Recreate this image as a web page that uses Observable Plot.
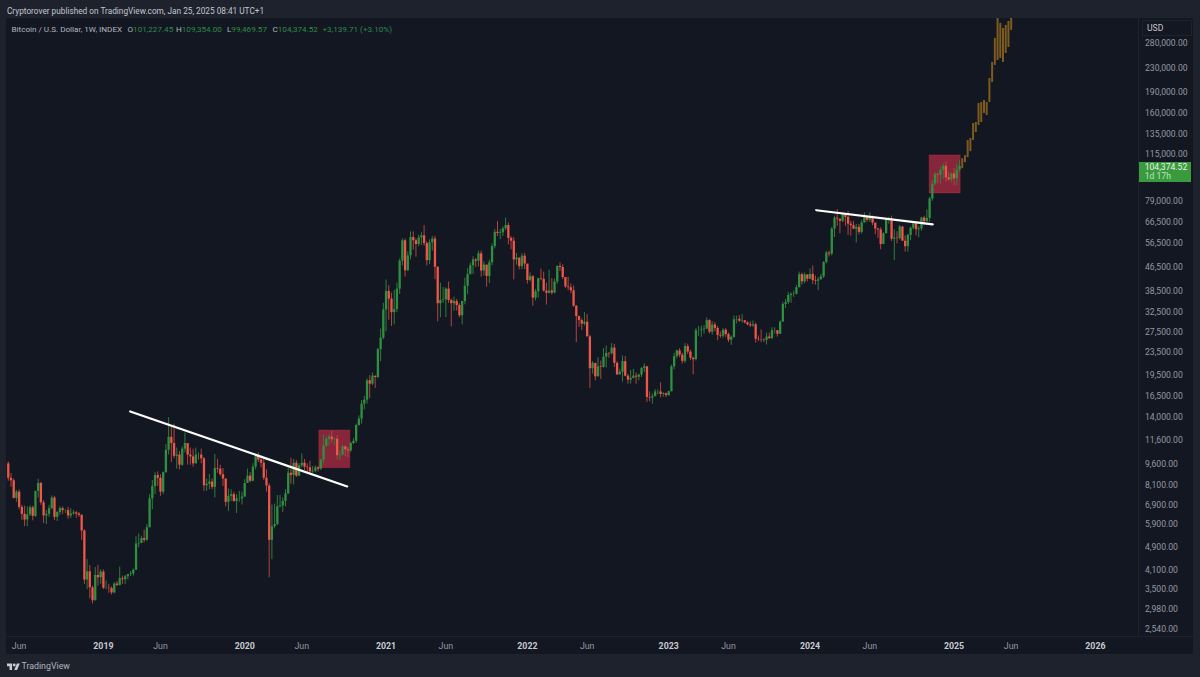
<!DOCTYPE html>
<html>
<head>
<meta charset="utf-8">
<script src="https://cdn.jsdelivr.net/npm/d3@7"></script>
<script src="https://cdn.jsdelivr.net/npm/@observablehq/plot@0.6"></script>
<style>
  html,body{margin:0;padding:0;background:#1e222d;width:1200px;height:677px;overflow:hidden;font-family:Roboto,"Liberation Sans",sans-serif;}
  #top{position:absolute;left:7px;top:6px;font-size:8.25px;line-height:10px;color:#c3c6cf;white-space:nowrap;}
  #chart{position:absolute;left:6px;top:18px;width:1187px;height:636px;background:#131722;}
  #chart svg{display:block;background:transparent;}
  #legend{position:absolute;left:11.5px;top:24px;font-size:8.1px;line-height:10px;color:#b2b5be;white-space:nowrap;}
  #legend b{font-weight:400;color:#2f8a49;}
  #legend i{font-style:normal;position:absolute;top:0;}
  #usd{position:absolute;left:1142px;top:20px;width:50px;height:16px;box-sizing:border-box;border:1px solid #1e222d;background:#131722;color:#c3c6cf;font-size:8.6px;line-height:14px;padding-left:4px;}
  #tag{position:absolute;left:1139px;top:161.5px;width:52px;height:20px;background:#3a9a3e;color:#e8f3e8;font-size:8.6px;line-height:9.5px;padding-left:5.7px;box-sizing:border-box;padding-top:1px;}
  #tag span{display:block;color:#bfe3c0;}
  #hline{position:absolute;left:7px;top:636px;width:1186px;height:1px;background:#1e222d;}
  #foot{position:absolute;left:6.5px;top:660px;height:12px;display:flex;align-items:center;color:#b2b5be;font-size:8.8px;}
  #foot svg{margin-right:2px;}
</style>
</head>
<body>
<script>
// Weekly candles from the week of 2018-05-07 to the week of 2025-01-20
const firstWeek = "2018-05-07";
const opens = [
  9600,8550,8380,7280, 7650,6770,6400,6120, 6380,6750,6300,7700,8200, 7020,6320,6400,6700, 7300,6250,6500,6700, 6600,6600,6320,6420,6480, 6420,6350,5600,3780, 4040,3550,3200,3920,3850,
  4030,3540,3540,3530, 3410,3660,3620,3820, 3790,3880,3950,3970, 4090,5050,5070,5270,5200, 5750,7250,8000,8740, 8550,7650,8950,10700, 11880,11300,10200,10300,9500, 10800,11300,10300,10150, 9600,10300,10300,10000,8050, 8150,8300,7950,9250, 9200,8800,8500,7050, 7400,7500,7100,7250,7250,
  7350,8200,8700,8350, 9350,10150,9900,9650, 8550,8040,5200,5800,5900, 6800,6850,7100,7550, 8900,8750,9650,8700, 9450,9650,9350,9300,9000, 9050,9300,9200,9900, 11050,11700,11900,11650,11700, 10250,10300,11000,10750, 10650,11300,11500,13050, 13750,15500,16000,18700,18200, 19400,19200,24000,26300,
  33000,38300,36000,32300, 33100,39000,48800,57500, 45200,50900,59000,57500,55800, 58800,59800,56200,49000, 56600,58300,46500,34700,35600, 35800,39000,35600,34700, 35300,34200,31500,35300, 39900,43800,47000,49300,48800, 51800,45100,47300,43200, 48200,54900,61500,61000, 61300,63300,65000,58600,57300, 49300,50000,46700,50800,
  47700,41800,43100,36300,38200, 42400,42200,38400,37700, 38400,37800,41300,46800, 46400,42800,39700,39450, 38500,34000,31300,30300,29450, 29900,26600,20600,21500, 19300,20900,20800,22600, 23300,23200,24300,21500,19600, 20000,21800,19400,18800, 19050,19400,19250,19570,20630, 20900,16350,16280,16450, 17100,17100,16750,16840,
  16600,17130,20900,22700,23750, 22950,21850,24600,23550, 22400,22150,27950,27950, 28150,28300,30300,27600, 29250,28450,26900,26750,28050, 27100,25900,26500,30500, 30600,30150,30250,29750,29300, 29050,29300,26100,26000, 25950,25850,26550,26250, 27950,27950,27150,29950,34500, 35000,37050,37350,37450, 39450,43800,41350,43700,
  42250,43900,41750,41550,42050, 43000,48300,52100,51700, 63100,68900,68400,67200, 71300,69400,65700,64900,63100, 64000,61500,66300,69300, 67800,69600,66200,63200, 62700,55800,60800,68200,68200, 58200,58700,58500,64200, 57300,54800,60000,63600,65900, 62800,63200,69000,67000, 68800,80400,90600,97900, 97400,101200,104500,95200,93700,
  98300,94500,101227.45
];
const highs = [
  9750,8880,8500,7750, 7780,6880,6830,6800, 6850,6830,7700,8480,8280, 7150,6600,6880,7420, 7400,6550,6800,6800, 6650,6780,6700,6600,6550, 6500,6380,5660,4450, 4250,3600,4180,4250,4100,
  4100,3750,3650,3580, 3700,3730,4190,3900, 3920,3950,4050,4130, 5350,5470,5370,5640,5900, 7500,8400,8950,9000, 8800,9000,11200,13900, 12900,13200,10900,10600,11000, 12300,11000,10900,10800, 10900,10480,10800,10100,8500, 8800,8500,10350,9950, 9500,9250,8500,7850, 7800,7650,7500,7700,7650,
  8450,9200,8950,9600, 10200,10500,10200,9950, 9150,8180,6900,6950,7450, 7450,7300,7800,9450, 10050,9950,9850,9600, 10400,9950,9600,9800,9400, 9450,9400,9950,12100, 11900,12100,12480,11800,12050, 10650,11150,11100,10950, 11450,11750,13200,14100, 15950,16500,18950,19500,19900, 19400,24200,28300,34800,
  41950,40100,37800,38600, 40950,49700,58300,58300, 52600,61700,61800,58400,60100, 61300,64900,57000,57900, 59500,59600,46600,40900,39500, 39400,41300,36000,36600, 35900,34700,35400,42600, 46000,48100,50500,49900,52900, 52900,48500,45100,49200, 56000,62900,67000,63000, 64300,69000,66300,59400,59000, 51900,50200,51800,52000,
  47500,44400,43500,38900,42600, 45800,44700,40900,45400, 42500,42300,47000,48200, 47400,42400,42900,40700, 40000,34200,31400,30700,32300, 31800,26900,21800,21500, 22500,21900,24200,24700, 23400,25200,25000,21800,20500, 22800,22700,19700,20300, 20500,19900,19700,20800,21400, 21000,17100,16800,17400, 17400,18400,17000,16950,
  17200,21200,23300,23900,24200, 23300,25200,25100,23900, 22600,28400,28900,29000, 29100,30950,30500,30000, 29800,28900,27650,28400,28400, 27400,26800,31400,31400, 31500,31800,30300,30000,30000, 30200,29700,26800,28100, 26100,27400,27400,28600, 28600,27900,30200,35100,35900, 37900,37900,38400,40200, 44700,44300,44400,43700,
  45900,47000,43300,42800,43900, 48600,52800,52900,64000, 70000,73800,68100,71500, 71300,72800,67200,67200,65500, 65500,67500,71900,70000, 71900,70100,66400,63400, 63800,61300,68300,69400,70000, 62700,61800,65000,64500, 59800,60600,64100,66500,66000, 64500,69400,70000,73600, 81500,93400,99600,98800, 104000,106500,108300,99800,99000,
  102700,106400,109354
];
const lows = [
  8350,7960,7250,7050, 6640,6100,5800,5800, 6300,6080,6250,7300,6880, 5950,5900,6250,6650, 6100,6050,6350,6400, 6450,6150,6200,6360,6200, 6250,5200,3650,3500, 3250,3120,3200,3600,3650,
  3500,3500,3400,3350, 3380,3590,3600,3650, 3650,3780,3890,3900, 4080,4900,5060,5100,5160, 5750,6650,7500,8000, 7400,7500,8900,10300, 9700,10000,9200,9150,9400, 10500,9500,9500,9350, 9600,9900,9600,7700,7700, 7800,7800,7300,8900, 8700,8000,6800,6550, 7100,7050,6450,7050,6900,
  7700,8250,8250,8300, 9150,9700,9300,8400, 7650,3850,4450,5700,5850, 6750,6500,6800,7500, 8150,8100,8600,8650, 9300,9100,8900,8800,8900, 8950,9000,9100,9600, 10950,11100,11300,11100,9900, 9850,10200,10150,10100, 10500,11200,11300,13000, 13200,14800,15500,16200,18000, 17600,19000,21800,26000,
  27700,30400,28900,29300, 32300,37400,47000,43000, 44900,49300,53300,50400,54800, 55400,55000,47000,47500, 52900,42100,30000,31000,34800, 31000,34800,28800,32700, 32700,31000,29300,34400, 37300,43800,43800,46400,46600, 42900,43300,39600,40800, 47100,53900,59500,58000, 59500,62300,55600,53500,42000, 47300,45500,45600,45700,
  40600,41300,34000,35500,36300, 41700,38100,34300,37500, 37200,37500,40500,45000, 42100,39200,38500,37600, 33700,25400,28700,28000,29000, 26600,17600,19700,18700, 19300,18900,20700,20700, 22400,23000,20800,19500,19600, 18500,19300,18200,18200, 19000,18200,18700,19200,20000, 15700,15800,15500,16700, 16700,16300,16400,16350,
  16500,17100,20400,22300,22500, 21400,21500,23100,22000, 19600,21900,26700,26500, 27200,28200,27200,26950, 27700,25800,26300,26300,26500, 25400,24800,26300,29500, 29900,29700,29500,29050,28650, 28700,25300,25600,25400, 25400,24900,26000,26000, 27200,26550,27100,29900,33400, 34500,34800,36500,37200, 39400,40300,40700,41300,
  42200,40500,40300,38500,41900, 42500,47700,50500,50900, 59000,64500,60800,66500, 64500,60000,59600,62800,56500, 60200,60700,66300,66700, 66600,64900,60300,58500, 53500,55700,63400,65700,57200, 49000,56100,57800,57200, 52500,52500,57500,62700,59800, 58900,62100,65200,66800, 66800,78900,89500,90700, 90500,94200,92100,92600,91500,
  89300,89250,99469.57
];
const closes = [
  8550,8380,7280,7650, 6770,6400,6120,6380, 6750,6300,7700,8200,7020, 6320,6400,6700,7300, 6250,6500,6700,6600, 6600,6320,6420,6480,6420, 6350,5600,3780,4040, 3550,3200,3920,3850,4030,
  3540,3540,3530,3410, 3660,3620,3820,3790, 3880,3950,3970,4090, 5050,5070,5270,5200,5750, 7250,8000,8740,8550, 7650,8950,10700,11880, 11300,10200,10300,9500,10800, 11300,10300,10150,9600, 10300,10300,10000,8050,8150, 8300,7950,9250,9200, 8800,8500,7050,7400, 7500,7100,7250,7250,7350,
  8200,8700,8350,9350, 10150,9900,9650,8550, 8040,5200,5800,5900,6800, 6850,7100,7550,8900, 8750,9650,8700,9450, 9650,9350,9300,9000,9050, 9300,9200,9900,11050, 11700,11900,11650,11700,10250, 10300,11000,10750,10650, 11300,11500,13050,13750, 15500,16000,18700,18200,19400, 19200,24000,26300,33000,
  38300,36000,32300,33100, 39000,48800,57500,45200, 50900,59000,57500,55800,58800, 59800,56200,49000,56600, 58300,46500,34700,35600,35800, 39000,35600,34700,35300, 34200,31500,35300,39900, 43800,47000,49300,48800,51800, 45100,47300,43200,48200, 54900,61500,61000,61300, 63300,65000,58600,57300,49300, 50000,46700,50800,47700,
  41800,43100,36300,38200,42400, 42200,38400,37700,38400, 37800,41300,46800,46400, 42800,39700,39450,38500, 34000,31300,30300,29450,29900, 26600,20600,21500,19300, 20900,20800,22600,23300, 23200,24300,21500,19600,20000, 21800,19400,18800,19050, 19400,19250,19570,20630,20900, 16350,16280,16450,17100, 17100,16750,16840,16600,
  17130,20900,22700,23750,22950, 21850,24600,23550,22400, 22150,27950,27950,28150, 28300,30300,27600,29250, 28450,26900,26750,28050,27100, 25900,26500,30500,30600, 30150,30250,29750,29300,29050, 29300,26100,26000,25950, 25850,26550,26250,27950, 27950,27150,29950,34500,35000, 37050,37350,37450,39450, 43800,41350,43700,42250,
  43900,41750,41550,42050,43000, 48300,52100,51700,63100, 68900,68400,67200,71300, 69400,65700,64900,63100,64000, 61500,66300,69300,67800, 69600,66200,63200,62700, 55800,60800,68200,68200,58200, 58700,58500,64200,57300, 54800,60000,63600,65900,62800, 63200,69000,67000,68800, 80400,90600,97900,97400, 101200,104500,95200,93700,98300,
  94500,101227.45,104374.52
];
// Projected bars after the last real week (first is the week of 2025-01-27)
const firstProjected = "2025-01-27";
const projectedLow  = [102500,107500,112000,117500,128500,137000,145000,148500,159700,157100,174400,204800,234700,244300,248200,240400,258400,271100,310800];
const projectedHigh = [111000,113800,128500,130600,147300,148500,173000,174400,177200,174400,211400,240400,291500,360000,328700,315900,323600,334000,360000];

// Highlight boxes
const boxStart = ["2020-07-16","2024-11-04"];
const boxEnd   = ["2020-10-04","2025-01-23"];
const boxLow   = [9270,84000];
const boxHigh  = [12545,114000];

// White trend lines
const trendDates  = [["2019-03-17","2020-09-26"],["2024-01-17","2024-11-12"]];
const trendPrices = [[14616,8006],[73450,65530]];

// Axis ticks
const priceTicks = [280000,230000,190000,160000,135000,115000,79000,66500,56500,46500,38500,32500,27500,23500,19500,16500,14000,11600,9600,8100,6900,5900,4900,4100,3500,2980,2540];
const yearTicks = ["2019-01-07","2020-01-06","2021-01-04","2022-01-03","2023-01-02","2024-01-01","2025-01-06","2026-01-05"];
const juneTicks = ["2018-06-04","2019-06-03","2020-06-01","2021-06-07","2022-06-06","2023-06-05","2024-06-03","2025-06-02"];

const weekAfter = (start,i)=> d3.utcDay.offset(new Date(start+"T00:00Z"), i*7);
const candles = closes.map((c,i)=>({date:weekAfter(firstWeek,i),o:opens[i],h:highs[i],l:lows[i],c}));
const projected = projectedLow.map((l,i)=>({date:weekAfter(firstProjected,i),l,h:projectedHigh[i]}));
const boxes = boxStart.map((s,i)=>({x1:new Date(s),x2:new Date(boxEnd[i]),y1:boxLow[i],y2:boxHigh[i]}));
const trends = trendDates.flatMap((ds,k)=>ds.map((d,i)=>({k,date:new Date(d),p:trendPrices[k][i]})));
const ups = candles.filter(d=>d.c>=d.o), downs = candles.filter(d=>d.c<d.o);

const GREEN="#2f9140", RED="#ee5647", GW="#2f7c3c", RW="#b5423e", BROWN="#7d5a1e";
const xDomain=[new Date("2018-05-05"),new Date("2026-04-26")], yDomain=[2403,342000];
const priceLabel=d3.format(",.2f");

const plot = Plot.plot({
  width:1187, height:636, marginLeft:1, marginRight:55, marginTop:0, marginBottom:18,
  style:{background:"transparent",fontFamily:"Roboto,'Liberation Sans',sans-serif"},
  x:{type:"utc",domain:xDomain,axis:null},
  y:{type:"log",domain:yDomain,axis:null},
  marks:[
    Plot.rect(boxes,{x1:"x1",x2:"x2",y1:"y1",y2:"y2",fill:"#e8334f",fillOpacity:.55,stroke:"#e8334f",strokeOpacity:.25,clip:true}),
    Plot.ruleX(projected,{x:"date",y1:"l",y2:"h",stroke:BROWN,strokeWidth:2,clip:true}),
    Plot.ruleX(ups,{x:"date",y1:"l",y2:"h",stroke:GW,strokeWidth:1,clip:true}),
    Plot.ruleX(downs,{x:"date",y1:"l",y2:"h",stroke:RW,strokeWidth:1,clip:true}),
    Plot.ruleX(ups,{x:"date",y1:"o",y2:"c",stroke:GREEN,strokeWidth:2.3,clip:true}),
    Plot.ruleX(downs,{x:"date",y1:"o",y2:"c",stroke:RED,strokeWidth:2.3,clip:true}),
    Plot.line(trends,{x:"date",y:"p",z:"k",stroke:"#ffffff",strokeWidth:2.2,clip:true}),
    Plot.ruleX([xDomain[1]],{stroke:"#1e222d",strokeWidth:1}),
    Plot.text(priceTicks,{y:d=>d,text:d=>priceLabel(d),frameAnchor:"right",textAnchor:"start",dx:6.5,fontSize:8.6,fill:"#9598a1"}),
    Plot.axisX({ticks:juneTicks.map(d=>new Date(d)),tickSize:0,tickPadding:6,tickFormat:()=>"Jun",fontSize:8.8,fill:"#9598a1",label:null}),
    Plot.axisX({ticks:yearTicks.map(d=>new Date(d)),tickSize:0,tickPadding:6,tickFormat:d3.utcFormat("%Y"),fontSize:8.8,fontWeight:700,fill:"#c8cad0",label:null})
  ]
});

const topLine = document.createElement("div"); topLine.id="top";
topLine.textContent="Cryptorover published on TradingView.com, Jan 25, 2025 08:41 UTC+1";
document.body.appendChild(topLine);
const chart=document.createElement("div"); chart.id="chart"; chart.appendChild(plot); document.body.appendChild(chart);
const leg=document.createElement("div"); leg.id="legend";
leg.innerHTML='Bitcoin / U.S. Dollar, 1W, INDEX<i style="left:116px">O<b>101,227.45</b></i><i style="left:164.5px">H<b>109,354.00</b></i><i style="left:215.5px">L<b>99,469.57</b></i><i style="left:261px">C<b>104,374.52</b></i><i style="left:311px"><b>+3,139.71 (+3.10%)</b></i>';
document.body.appendChild(leg);
const usd=document.createElement("div"); usd.id="usd"; usd.textContent="USD"; document.body.appendChild(usd);
const tag=document.createElement("div"); tag.id="tag"; tag.innerHTML='104,374.52<span>1d 17h</span>'; document.body.appendChild(tag);
const hl=document.createElement("div"); hl.id="hline"; document.body.appendChild(hl);
const foot=document.createElement("div"); foot.id="foot";
foot.innerHTML='<svg width="13" height="9" viewBox="0 0 36 24"><path fill="#c8cad0" d="M14 22H7V11H0V4h14v18zM28 22h-8l7.5-18h8L28 22z"/><circle fill="#c8cad0" cx="20" cy="8" r="4"/></svg>TradingView';
document.body.appendChild(foot);
</script>
</body>
</html>
